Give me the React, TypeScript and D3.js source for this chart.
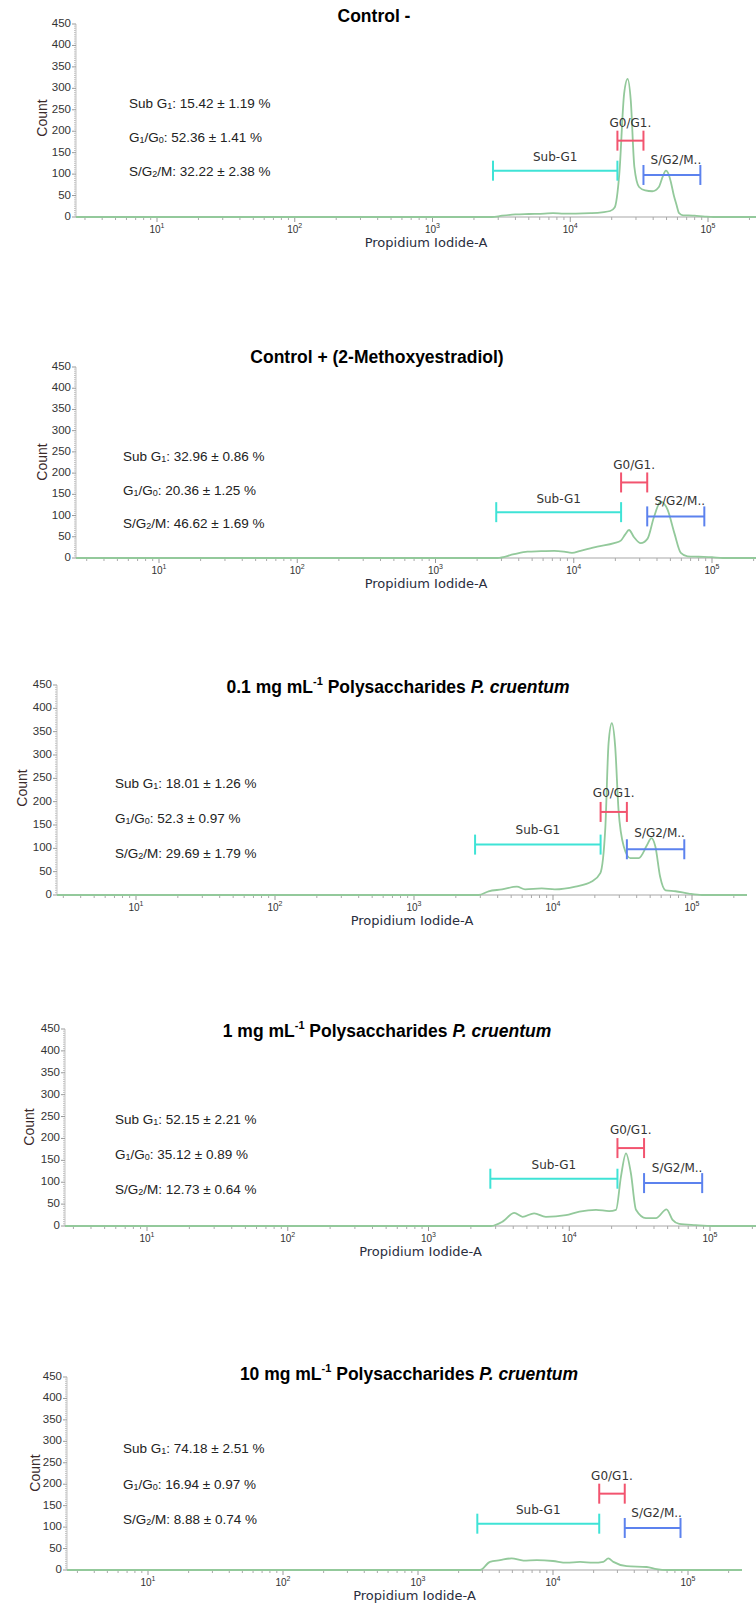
import React from "react";
import * as d3 from "d3";

// ---------- DATA ----------
const TITLES = [
  { pre: "Control -", sup: "", mid: "", ital: "" },
  { pre: "Control + (2-Methoxyestradiol)", sup: "", mid: "", ital: "" },
  { pre: "0.1 mg mL", sup: "-1", mid: " Polysaccharides ", ital: "P. cruentum" },
  { pre: "1 mg mL", sup: "-1", mid: " Polysaccharides ", ital: "P. cruentum" },
  { pre: "10 mg mL", sup: "-1", mid: " Polysaccharides ", ital: "P. cruentum" },
];

const SUB_G1 = ["15.42 ± 1.19 %", "32.96 ± 0.86 %", "18.01 ± 1.26 %", "52.15 ± 2.21 %", "74.18 ± 2.51 %"];
const G1_G0 = ["52.36 ± 1.41 %", "20.36 ± 1.25 %", "52.3 ± 0.97 %", "35.12 ± 0.89 %", "16.94 ± 0.97 %"];
const S_G2_M = ["32.22 ± 2.38 %", "46.62 ± 1.69 %", "29.69 ± 1.79 %", "12.73 ± 0.64 %", "8.88 ± 0.74 %"];

const Y_TICKS = [0, 50, 100, 150, 200, 250, 300, 350, 400, 450];
const X_TICKS = [10, 100, 1000, 10000, 100000];
const X_TICK_EXP = ["1", "2", "3", "4", "5"];

// gates
const GATE_NAMES = ["Sub-G1", "G0/G1.", "S/G2/M.."];
const GATE_FROM = [2750, 22000, 34000];
const GATE_TO = [22000, 34000, 88000];
const GATE_LEVEL = [108, 178, 98];
const GATE_LABEL_LEVEL = [139, 218, 132];

// histograms: [Propidium Iodide-A, count]
const CTRL_NEG: [number, number][] = [
  [2, 0], [2700, 0], [3200, 3], [4000, 6], [5000, 7], [6500, 8], [7500, 9], [9000, 8], [11000, 8],
  [14000, 9], [17000, 11], [19500, 14], [21000, 22], [22700, 100], [24600, 287], [26100, 322],
  [27500, 272], [29200, 117], [31600, 70], [35000, 62], [39400, 60], [44000, 70], [47000, 95],
  [49500, 108], [52000, 98], [53900, 80], [56500, 50], [58900, 30], [61700, 9], [66000, 4],
  [72000, 4], [80000, 3], [95000, 1], [110000, 0], [400000, 0],
];
const CTRL_POS: [number, number][] = [
  [2, 0], [2800, 0], [3700, 9], [4620, 15], [5800, 16], [7220, 17], [8500, 15], [9700, 12],
  [11200, 17], [14800, 27], [19600, 35], [21900, 41], [23500, 55], [25100, 66], [27300, 49],
  [30500, 35], [34100, 45], [38000, 96], [42600, 133], [47700, 114], [53500, 58], [59500, 12],
  [66500, 4], [80000, 3], [100000, 2], [120000, 0], [400000, 0],
];
const PC_01: [number, number][] = [
  [2, 0], [2920, 0], [3440, 8], [4300, 12], [5500, 18], [6300, 12], [8300, 14], [10300, 12],
  [14500, 18], [19000, 29], [21900, 47], [23800, 145], [25100, 325], [26500, 368], [28000, 319],
  [29600, 183], [32300, 104], [36000, 79], [41400, 79], [47500, 107], [51000, 122], [54500, 104],
  [59000, 39], [64500, 10], [76000, 8], [94700, 3], [118000, 0], [400000, 0],
];
const PC_1: [number, number][] = [
  [2, 0], [2780, 0], [3360, 10], [4070, 30], [4660, 21], [5630, 29], [6820, 21], [9460, 25],
  [11800, 33], [15500, 37], [19200, 34], [21500, 37], [23300, 113], [25300, 166], [27400, 121],
  [29800, 37], [35100, 18], [41300, 18], [49100, 38], [54200, 14], [60400, 5], [79000, 2],
  [105000, 0], [400000, 0],
];
const PC_10: [number, number][] = [
  [2, 0], [2880, 0], [3410, 19], [4050, 23], [4940, 27], [6030, 22], [7580, 23], [10000, 21],
  [12600, 17], [15850, 19], [19900, 17], [23600, 19], [25700, 27], [28000, 19], [35200, 9],
  [49400, 7], [58700, 2], [69500, 0], [400000, 0],
];
const SERIES = [CTRL_NEG, CTRL_POS, PC_01, PC_1, PC_10];

// ---------- LAYOUT ----------
const LAYOUT = [
  { x0: 76, x1: 756, d1: 157, d5: 708, yZero: 217, yTop: 24, titleX: 374, titleY: 17, statsX: 129, statsDy: [-113, -79, -45], countX: 43, countDy: -99 },
  { x0: 76, x1: 756, d1: 159, d5: 712, yZero: 558, yTop: 367, titleX: 377, titleY: 358, statsX: 123, statsDy: [-101, -67, -34], countX: 43, countDy: -96 },
  { x0: 57, x1: 747, d1: 136, d5: 692, yZero: 895, yTop: 685, titleX: 398, titleY: 688, statsX: 115, statsDy: [-111, -76, -41], countX: 23, countDy: -107 },
  { x0: 65, x1: 756, d1: 147, d5: 710, yZero: 1226, yTop: 1029, titleX: 387, titleY: 1032, statsX: 115, statsDy: [-106, -71, -36], countX: 30, countDy: -99 },
  { x0: 67, x1: 742, d1: 148, d5: 688, yZero: 1570, yTop: 1377, titleX: 409, titleY: 1375, statsX: 123, statsDy: [-121, -85, -50], countX: 36, countDy: -97 },
];

const GATE_COLORS = ["#3fe3d6", "#f2546f", "#5c82ee"];
const CURVE_COLOR = "#93c99b";
const AXIS_COLOR = "#c4c4c4";
const TEXT_COLOR = "#222";
const LABEL_COLOR = "#3a2a2a";
const FONT = "'Liberation Sans', Arial, sans-serif";
const GATE_FONT = "'DejaVu Sans', sans-serif";

function Panel({ idx }: { idx: number }) {
  const L = LAYOUT[idx];
  const x = d3.scaleLog().domain([10, 100000]).range([L.d1, L.d5]);
  const y = d3.scaleLinear().domain([0, 450]).range([L.yZero, L.yTop]);
  const line = d3
    .line<[number, number]>()
    .x((d) => x(d[0]))
    .y((d) => y(d[1]))
    .curve(d3.curveMonotoneX);
  const clipId = `clip-${idx}`;
  const t = TITLES[idx];

  const minorX: number[] = [];
  for (let e = 0; e <= 5; e++) {
    for (let k = 2; k <= 9; k++) {
      const v = k * Math.pow(10, e);
      const px = x(v);
      if (px > L.x0 + 1 && px < L.x1 - 1) minorX.push(v);
    }
  }
  const minorY: number[] = d3.range(0, 451, 5).filter((v) => v % 50 !== 0);

  return (
    <g>
      <defs>
        <clipPath id={clipId}>
          <rect x={L.x0} y={L.yTop - 20} width={L.x1 - L.x0} height={L.yZero - L.yTop + 22} />
        </clipPath>
      </defs>
      {/* title */}
      <text x={L.titleX} y={L.titleY} textAnchor="middle" dominantBaseline="middle" fontFamily={FONT} fontWeight="bold" fontSize={17.5} fill="#000">
        <tspan>{t.pre}</tspan>
        {t.sup && (
          <tspan dy={-6} fontSize={11}>
            {t.sup}
          </tspan>
        )}
        {t.mid && <tspan dy={t.sup ? 6 : 0}>{t.mid}</tspan>}
        {t.ital && <tspan fontStyle="italic">{t.ital}</tspan>}
      </text>

      {/* y axis */}
      <line x1={L.x0} x2={L.x0} y1={y(450)} y2={L.yZero} stroke={AXIS_COLOR} strokeWidth={1} />
      {minorY.map((v) => (
        <line key={"my" + v} x1={L.x0 - 2} x2={L.x0} y1={y(v)} y2={y(v)} stroke={AXIS_COLOR} strokeWidth={1} />
      ))}
      {Y_TICKS.map((v) => (
        <g key={"yt" + v}>
          <line x1={L.x0 - 4} x2={L.x0} y1={y(v)} y2={y(v)} stroke="#999" strokeWidth={1} />
          <text x={L.x0 - 5} y={y(v)} textAnchor="end" dominantBaseline="middle" fontFamily={FONT} fontSize={11.5} fill="#333">
            {v}
          </text>
        </g>
      ))}
      <text
        transform={`translate(${L.countX},${L.yZero + L.countDy}) rotate(-90)`}
        textAnchor="middle"
        dominantBaseline="middle"
        fontFamily={FONT}
        fontSize={14}
        fill={LABEL_COLOR}
      >
        Count
      </text>

      {/* x axis */}
      <line x1={L.x0} x2={L.x1} y1={L.yZero} y2={L.yZero} stroke={AXIS_COLOR} strokeWidth={1.5} />
      {minorX.map((v) => (
        <line key={"mx" + v} x1={x(v)} x2={x(v)} y1={L.yZero} y2={L.yZero + 3} stroke="#aaa" strokeWidth={1} />
      ))}
      {X_TICKS.map((v, i) => (
        <g key={"xt" + v}>
          <line x1={x(v)} x2={x(v)} y1={L.yZero} y2={L.yZero + 5} stroke="#999" strokeWidth={1} />
          <text x={x(v)} y={L.yZero + 13} textAnchor="middle" dominantBaseline="middle" fontFamily={FONT} fontSize={10} fill="#333">
            <tspan>10</tspan>
            <tspan dy={-4} fontSize={7}>
              {X_TICK_EXP[i]}
            </tspan>
          </text>
        </g>
      ))}
      <text x={(L.x0 + L.x1) / 2 + 10} y={L.yZero + 26} textAnchor="middle" dominantBaseline="middle" fontFamily={GATE_FONT} fontSize={13} fill="#2a2e3e">
        Propidium Iodide-A
      </text>

      {/* stats */}
      <text x={L.statsX} y={L.yZero + L.statsDy[0]} dominantBaseline="middle" fontFamily={FONT} fontSize={13.5} fill={TEXT_COLOR}>
        <tspan>Sub G</tspan>
        <tspan dy={3} fontSize={9}>1</tspan>
        <tspan dy={-3}>{": " + SUB_G1[idx]}</tspan>
      </text>
      <text x={L.statsX} y={L.yZero + L.statsDy[1]} dominantBaseline="middle" fontFamily={FONT} fontSize={13.5} fill={TEXT_COLOR}>
        <tspan>G</tspan>
        <tspan dy={3} fontSize={9}>1</tspan>
        <tspan dy={-3}>/G</tspan>
        <tspan dy={3} fontSize={9}>0</tspan>
        <tspan dy={-3}>{": " + G1_G0[idx]}</tspan>
      </text>
      <text x={L.statsX} y={L.yZero + L.statsDy[2]} dominantBaseline="middle" fontFamily={FONT} fontSize={13.5} fill={TEXT_COLOR}>
        <tspan>S/G</tspan>
        <tspan dy={3} fontSize={9}>2</tspan>
        <tspan dy={-3}>{"/M: " + S_G2_M[idx]}</tspan>
      </text>

      {/* histogram */}
      <path d={line(SERIES[idx]) || ""} fill="none" stroke={CURVE_COLOR} strokeWidth={1.8} clipPath={`url(#${clipId})`} />

      {/* gates */}
      {GATE_NAMES.map((name, i) => {
        const a = x(GATE_FROM[i]);
        const b = x(GATE_TO[i]);
        const gy = y(GATE_LEVEL[i]);
        return (
          <g key={name}>
            <line x1={a} x2={b} y1={gy} y2={gy} stroke={GATE_COLORS[i]} strokeWidth={2} />
            <line x1={a} x2={a} y1={gy - 10} y2={gy + 10} stroke={GATE_COLORS[i]} strokeWidth={2} />
            <line x1={b} x2={b} y1={gy - 10} y2={gy + 10} stroke={GATE_COLORS[i]} strokeWidth={2} />
            <text
              x={(a + b) / 2 + (i === 2 ? 4 : 0)}
              y={y(GATE_LABEL_LEVEL[i])}
              textAnchor="middle"
              dominantBaseline="middle"
              fontFamily={GATE_FONT}
              fontSize={12}
              fill="#333"
            >
              {name}
            </text>
          </g>
        );
      })}
    </g>
  );
}

export default function App() {
  return (
    <svg width={756} height={1607} style={{ position: "absolute", left: 0, top: 0, background: "#fff" }}>
      <rect x={0} y={0} width={756} height={1607} fill="#fff" />
      {LAYOUT.map((_, i) => (
        <Panel key={i} idx={i} />
      ))}
    </svg>
  );
}
